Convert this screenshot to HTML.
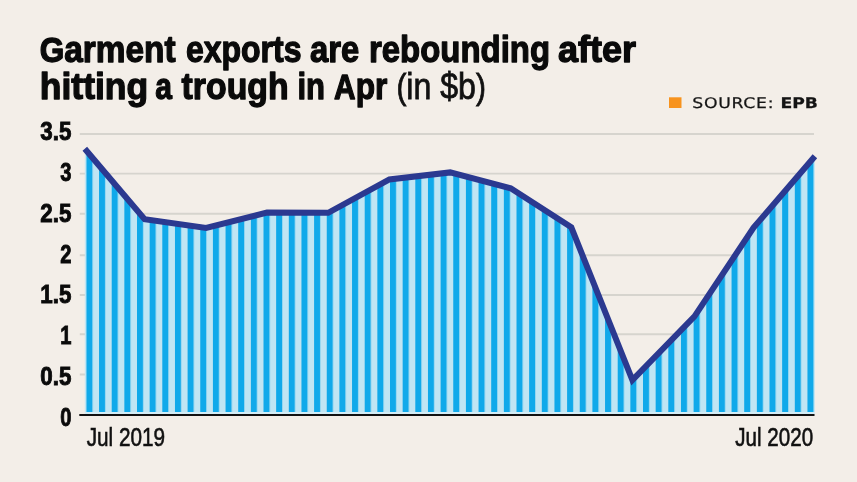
<!DOCTYPE html>
<html><head><meta charset="utf-8"><title>Garment exports</title>
<style>
html,body{margin:0;padding:0;background:#f3eee8;}
svg{display:block}
.title text{font-family:"Liberation Sans",sans-serif;font-weight:bold;font-size:37.5px;fill:#0a0a0a;stroke:#0a0a0a;stroke-width:1.3px;stroke-linejoin:round}
.ylab text{font-family:"Liberation Sans",sans-serif;font-weight:bold;font-size:25.4px;fill:#0a0a0a;stroke:#0a0a0a;stroke-width:0.9px}
.xlab text{font-family:"Liberation Sans",sans-serif;font-size:26px;fill:#111;stroke:#111;stroke-width:0.6px}
.unit{font-family:"Liberation Sans",sans-serif;font-size:37.2px;fill:#111;stroke:#111;stroke-width:0.8px}
.src{font-family:"DejaVu Sans",sans-serif;font-size:14.6px;text-rendering:geometricPrecision;fill:#141414;stroke:#141414;stroke-width:0.25px}
.grid line{stroke:#d6d4ce;stroke-width:1.9}
</style></head><body>
<svg width="857" height="482" viewBox="0 0 857 482">
<defs>
<pattern id="stripes" x="86.4" y="0" width="12.65" height="10" patternUnits="userSpaceOnUse">
<rect x="0" y="0" width="6.33" height="10" fill="#10a9ea"/>
<rect x="6.33" y="0" width="6.33" height="10" fill="#c0e5f3"/>
</pattern>
<clipPath id="areaclip"><polygon points="84.8,148.7 144.6,219.3 206.1,228.0 267,212.6 328.2,212.8 389.4,179.4 450.2,172.4 510.7,188.3 571.3,227.3 632.4,380 694.5,316.3 753.6,227.6 814.9,156.2 814.9,412.3 84.8,412.3"/></clipPath>
</defs>
<rect width="857" height="482" fill="#f3eee8"/>
<g class="grid"><line x1="79.8" x2="814" y1="134.0" y2="134.0"/><line x1="79.8" x2="814" y1="173.6" y2="173.6"/><line x1="79.8" x2="814" y1="213.8" y2="213.8"/><line x1="79.8" x2="814" y1="255.2" y2="255.2"/><line x1="79.8" x2="814" y1="295.0" y2="295.0"/><line x1="79.8" x2="814" y1="334.2" y2="334.2"/><line x1="79.8" x2="814" y1="374.5" y2="374.5"/></g>
<g clip-path="url(#areaclip)">
<rect x="84" y="130" width="731" height="284" fill="#c0e5f3"/>
<rect x="86.1" y="130" width="728" height="284" fill="url(#stripes)"/>
</g>
<rect x="84.8" y="412" width="730.1" height="2.6" fill="#d4edf6"/><line x1="79.3" x2="814.5" y1="415" y2="415" stroke="#111" stroke-width="2"/>
<polyline points="84.8,148.7 144.6,219.3 206.1,228.0 267,212.6 328.2,212.8 389.4,179.4 450.2,172.4 510.7,188.3 571.3,227.3 632.4,380 694.5,316.3 753.6,227.6 814.9,156.2" fill="none" stroke="#2b3990" stroke-width="6" stroke-linejoin="miter" stroke-miterlimit="3"/>
<g class="title"><text x="39.7" y="61.8" textLength="135.9" lengthAdjust="spacingAndGlyphs"><tspan font-size="35.4">G</tspan>arment</text><text x="185.9" y="61.8" textLength="115.6" lengthAdjust="spacingAndGlyphs">exports</text><text x="309.9" y="61.8" textLength="49.3" lengthAdjust="spacingAndGlyphs">are</text><text x="369" y="61.8" textLength="181.0" lengthAdjust="spacingAndGlyphs">rebounding</text><text x="558" y="61.8" textLength="78.1" lengthAdjust="spacingAndGlyphs">after</text><text x="39.8" y="99" textLength="108.4" lengthAdjust="spacingAndGlyphs">hitting</text><text x="155.3" y="99" textLength="16.7" lengthAdjust="spacingAndGlyphs">a</text><text x="181.6" y="99" textLength="107.0" lengthAdjust="spacingAndGlyphs">trough</text><text x="297.4" y="99" textLength="27.6" lengthAdjust="spacingAndGlyphs">in</text><text x="334.1" y="99" textLength="53.2" lengthAdjust="spacingAndGlyphs"><tspan font-size="35.4">A</tspan>pr</text></g>
<text class="unit" x="396.4" y="99" textLength="89.5" lengthAdjust="spacingAndGlyphs"><tspan font-size="34.5">(</tspan>in $b<tspan font-size="34.5">)</tspan></text>
<g class="ylab"><text x="40.3" y="139.9" textLength="31.1" lengthAdjust="spacingAndGlyphs">3.5</text><text x="60.2" y="180.8" textLength="11.2" lengthAdjust="spacingAndGlyphs">3</text><text x="40.3" y="221.6" textLength="31.1" lengthAdjust="spacingAndGlyphs">2.5</text><text x="60.2" y="262.5" textLength="11.2" lengthAdjust="spacingAndGlyphs">2</text><text x="40.3" y="303.4" textLength="31.1" lengthAdjust="spacingAndGlyphs">1.5</text><text x="60.2" y="344.2" textLength="11.2" lengthAdjust="spacingAndGlyphs">1</text><text x="40.3" y="385.1" textLength="31.1" lengthAdjust="spacingAndGlyphs">0.5</text><text x="60.2" y="426.0" textLength="11.2" lengthAdjust="spacingAndGlyphs">0</text></g>
<g class="xlab">
<text x="86.7" y="445.5" textLength="78.4" lengthAdjust="spacingAndGlyphs">Jul 2019</text>
<text x="735.3" y="445.5" textLength="77.8" lengthAdjust="spacingAndGlyphs">Jul 2020</text>
</g>
<rect x="669" y="97.3" width="12.5" height="10.7" fill="#f7931e"/>
<text class="src" transform="translate(692.3,108) scale(1.18,1)" textLength="68.8" lengthAdjust="spacing">SOURCE:</text>
<text class="src" transform="translate(780.6,108) scale(1.18,1)" textLength="31.7" lengthAdjust="spacing" font-weight="bold">EPB</text>
</svg>
</body></html>
